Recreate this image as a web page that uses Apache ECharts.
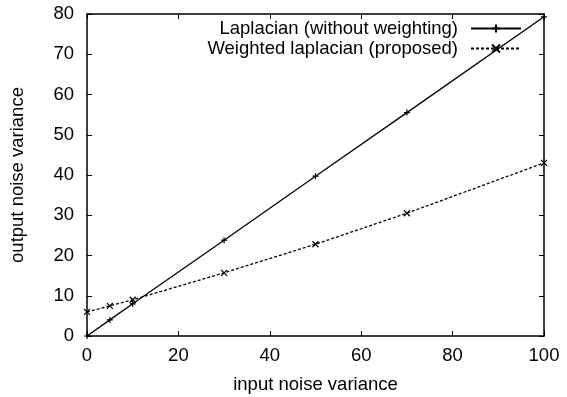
<!DOCTYPE html>
<html><head><meta charset="utf-8">
<script src="https://cdn.jsdelivr.net/npm/echarts@6/dist/echarts.min.js"></script>
<style>html,body{margin:0;padding:0;background:#fff}#c{width:567px;height:397px}</style>
</head><body><div id="c"></div>
<script>
const xValues = [0, 5, 10, 30, 50, 70, 100];
const laplacian = [0, 4, 8, 23.8, 39.7, 55.5, 79.3];
const weighted = [6, 7.5, 9, 15.7, 22.8, 30.5, 43];
const seriesNames = ['Laplacian (without weighting)', 'Weighted laplacian (proposed)'];
const xTitle = 'input noise variance';
const yTitle = 'output noise variance';

const FONT = 'Liberation Sans';
const FS = 18.5;
const plus = 'path://M0,5L10,5M5,0L5,10';
const cross = 'path://M0,0L10,10M10,0L0,10';
const chart = echarts.init(document.getElementById('c'));
const axisCommon = {
  axisLine: {show: true, onZero: false, lineStyle: {color: '#000', width: 1.5}},
  axisTick: {show: true, inside: true, length: 5, lineStyle: {color: '#000'}},
  splitLine: {show: false},
  axisLabel: {color: '#000', fontFamily: FONT, fontSize: FS},
  nameTextStyle: {color: '#000', fontFamily: FONT, fontSize: FS}
};
chart.setOption({
  animation: false,
  grid: {left: 87, right: 23, top: 14, bottom: 61, containLabel: false, outerBoundsMode: 'none'},
  legend: {
    right: 40, top: 14, orient: 'vertical', align: 'right', itemGap: 1,
    itemWidth: 50, itemHeight: 10,
    textStyle: {color: '#000', fontFamily: FONT, fontSize: FS, padding: [0, 8, 0, 0]},
    data: seriesNames
  },
  xAxis: [
    Object.assign({}, axisCommon, {type: 'value', min: 0, max: 100, interval: 20, name: xTitle,
      nameLocation: 'middle', nameGap: 39,
      axisLabel: Object.assign({}, axisCommon.axisLabel, {margin: 10})}),
    Object.assign({}, axisCommon, {type: 'value', min: 0, max: 100, interval: 20, position: 'top',
      axisLabel: {show: false}})
  ],
  yAxis: [
    Object.assign({}, axisCommon, {type: 'value', min: 0, max: 80, interval: 10, name: yTitle,
      nameLocation: 'middle', nameGap: 60,
      axisLabel: Object.assign({}, axisCommon.axisLabel, {margin: 13})}),
    Object.assign({}, axisCommon, {type: 'value', min: 0, max: 80, interval: 10, position: 'right',
      axisLabel: {show: false}})
  ],
  series: [
    {name: seriesNames[0], type: 'line', data: xValues.map((x, i) => [x, laplacian[i]]),
     symbol: plus, symbolSize: 6, showAllSymbol: true,
     lineStyle: {color: '#000', width: 1.3},
     itemStyle: {color: 'rgba(0,0,0,0)', borderColor: '#000', borderWidth: 1.2}},
    {name: seriesNames[1], type: 'line', data: xValues.map((x, i) => [x, weighted[i]]),
     symbol: cross, symbolSize: 6, showAllSymbol: true,
     lineStyle: {color: '#000', width: 1.3, type: [3, 2]},
     itemStyle: {color: 'rgba(0,0,0,0)', borderColor: '#000', borderWidth: 1.2}}
  ]
});
</script></body></html>
